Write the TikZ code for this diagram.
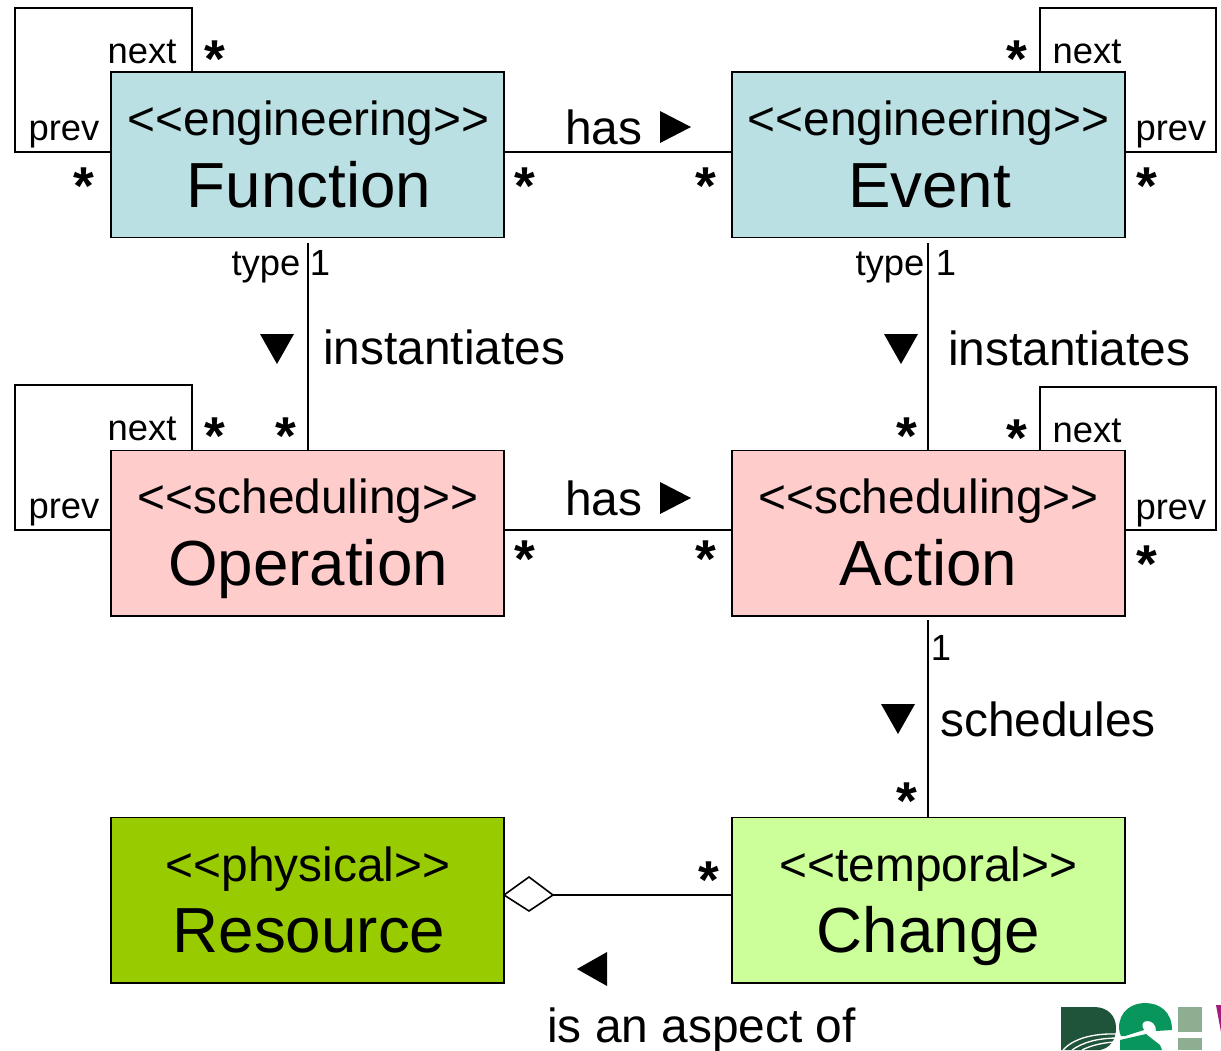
\documentclass[tikz,border=0pt]{standalone}
\usepackage{fontspec}
\setmainfont{Liberation Sans}
\definecolor{engc}{HTML}{BBE0E3}
\definecolor{schc}{HTML}{FFCCCC}
\definecolor{phyc}{HTML}{99CC00}
\definecolor{temc}{HTML}{CCFF99}
\definecolor{logoa}{RGB}{31,83,58}
\definecolor{logob}{RGB}{8,150,92}
\definecolor{logoc}{RGB}{142,174,146}
\definecolor{logod}{RGB}{160,30,120}
\newcommand{\fsz}[1]{\fontsize{#1}{#1}\selectfont}
\tikzset{
  x=0.75pt,y=-0.75pt,
  classbox/.style={draw=black,line width=1.3pt,outer sep=0pt,minimum width=294.75pt,minimum height=124.1pt,inner sep=0pt,anchor=north west},
  stereo/.style={anchor=base,inner sep=0pt,font=\fsz{35.9}},
  cname/.style={anchor=base,inner sep=0pt,font=\fsz{47.8}},
  role/.style={anchor=base,inner sep=0pt,font=\fsz{27.3}},
  assoc/.style={anchor=base west,inner sep=0pt,font=\fsz{35.9}},
  mult/.style={anchor=center,inner sep=0pt,font=\fsz{40}\bfseries},
  conn/.style={draw=black,line width=1.2pt},
  tri/.style={fill=black,draw=none},
}
\begin{document}
\begin{tikzpicture}
\useasboundingbox (0,0) rectangle (1221,1050);
% self-loop corners and free ends
\coordinate (fa) at (192,72);
\coordinate (fb) at (192,8);
\coordinate (fc) at (15,8);
\coordinate (fd) at (15,152);
\coordinate (ea) at (1040,72);
\coordinate (eb) at (1040,8);
\coordinate (ec) at (1216,8);
\coordinate (ed) at (1216,152);
\coordinate (oa) at (192,451);
\coordinate (ob) at (192,385);
\coordinate (oc) at (15,385);
\coordinate (od) at (15,530);
\coordinate (aa) at (1040,451);
\coordinate (ab) at (1040,387);
\coordinate (ac) at (1216,387);
\coordinate (ad) at (1216,530);
\coordinate (ftop) at (308,243);
\coordinate (etop) at (928,243);
\coordinate (atop) at (928,620);
\coordinate (levela) at (0,152);
\coordinate (levelb) at (0,530);
\coordinate (levelc) at (0,895);
% boxes
\node[classbox,fill=engc] (function) at (111,72) {};
\node[classbox,fill=engc] (event) at (732,72) {};
\node[classbox,fill=schc] (operation) at (111,450.5) {};
\node[classbox,fill=schc] (action) at (732,450.5) {};
\node[classbox,fill=phyc] (resource) at (111,817.5) {};
\node[classbox,fill=temc] (change) at (732,817.5) {};
% box texts
\node[stereo] (s1) at (308.5,135) {<{}<engineering>{}>};
\node[cname] (n1) at (309,207) {Function};
\node[stereo] (s2) at (928.5,135) {<{}<engineering>{}>};
\node[cname] (n2) at (929.5,207) {Event};
\node[stereo] (s3) at (308,513) {<{}<scheduling>{}>};
\node[cname] (n3) at (308,585) {Operation};
\node[stereo] (s4) at (928.5,513) {<{}<scheduling>{}>};
\node[cname] (n4) at (928.5,585) {Action};
\node[stereo] (s5) at (308,881) {<{}<physical>{}>};
\node[cname] (n5) at (309,952) {Resource};
\node[stereo] (s6) at (928.5,881) {<{}<temporal>{}>};
\node[cname] (n6) at (928.5,952) {Change};
% loops
\draw[conn] (fa) -- (fb) -- (fc) -- (fd) -- (fd -| function.west);
\draw[conn] (ea) -- (eb) -- (ec) -- (ed) -- (ed -| event.east);
\draw[conn] (oa) -- (ob) -- (oc) -- (od) -- (od -| operation.west);
\draw[conn] (aa) -- (ab) -- (ac) -- (ad) -- (ad -| action.east);
% connectors
\draw[conn] (levela -| function.east) -- (levela -| event.west);
\draw[conn] (levelb -| operation.east) -- (levelb -| action.west);
\draw[conn] (ftop) -- (ftop |- operation.north);
\draw[conn] (etop) -- (etop |- action.north);
\draw[conn] (atop) -- (atop |- change.north);
\coordinate (dl) at (levelc -| resource.east);
\coordinate (dr) at (553,895);
\draw[conn] (dr) -- (dr -| change.west);
\draw[conn,fill=white] (dl) -- (529,877) -- (dr) -- (529,911) -- cycle;
% roles
\node[role] (r1) at (142,63) {next};
\node[role] (r2) at (64,140) {prev};
\node[role] (r3) at (1087,63) {next};
\node[role] (r4) at (1171,140) {prev};
\node[role] (r5) at (142,440) {next};
\node[role] (r6) at (64,518) {prev};
\node[role] (r7) at (1087,442) {next};
\node[role] (r8) at (1171,519) {prev};
\node[role] (r9) at (266,275) {type};
\node[role] (r10) at (890,275) {type};
\node[role] (r11) at (320,275) {1};
\node[role] (r12) at (946,275) {1};
\node[role] (r13) at (941,660) {1};
% multiplicities
\node[mult] (m1) at (214.5,59) {*};
\node[mult] (m2) at (83.5,186) {*};
\node[mult] (m3) at (524.5,186) {*};
\node[mult] (m4) at (705.5,186) {*};
\node[mult] (m5) at (1016.5,59) {*};
\node[mult] (m6) at (1146.5,186) {*};
\node[mult] (m7) at (214.5,436) {*};
\node[mult] (m8) at (285.5,436) {*};
\node[mult] (m9) at (524.5,559) {*};
\node[mult] (m10) at (705.5,559) {*};
\node[mult] (m11) at (906.5,436) {*};
\node[mult] (m12) at (1016.5,438) {*};
\node[mult] (m13) at (1146.5,564) {*};
\node[mult] (m14) at (906.5,801) {*};
\node[mult] (m15) at (708.5,880) {*};
% association labels
\node[assoc] (l1) at (565,144) {has};
\node[assoc] (l2) at (565,515.5) {has};
\node[assoc] (l3) at (323,364) {instantiates};
\node[assoc] (l4) at (948,365) {instantiates};
\node[assoc] (l5) at (940,736) {schedules};
\node[assoc] (l6) at (547,1042) {is an aspect of};
% direction triangles
\fill[tri] (660,111) -- (691,127) -- (660,143) -- cycle;
\fill[tri] (660,482) -- (691,498) -- (660,514) -- cycle;
\fill[tri] (260,334) -- (294,334) -- (277,364) -- cycle;
\fill[tri] (884,334) -- (918,334) -- (901,364) -- cycle;
\fill[tri] (881,704) -- (915,704) -- (898,734) -- cycle;
\fill[tri] (607,952) -- (607,986) -- (577,969) -- cycle;
% logo fragment
\begin{scope}
\clip (0,0) rectangle (1221,1050);
\fill[logoa] (1061,1007) -- (1094,1007) .. controls (1108,1007) and (1116,1016) .. (1116,1028) .. controls (1116,1040) and (1110,1048) .. (1100,1050) -- (1061,1050) -- cycle;
\fill[logob] (1119,1028) .. controls (1119,1011) and (1132,1003) .. (1145,1003) .. controls (1160,1003) and (1172,1012) .. (1172,1030) -- (1156,1031) .. controls (1156,1024) and (1152,1021) .. (1147,1021) .. controls (1142,1021) and (1141,1026) .. (1144,1030) -- (1125,1036) -- (1121,1036) .. controls (1120,1034) and (1119,1031) .. (1119,1028) -- cycle;
\fill[logob] (1120,1040) -- (1146,1034) -- (1160,1045) -- (1162,1050) -- (1120,1050) -- cycle;
\fill[logoc] (1178,1007) rectangle (1202,1032);
\fill[logoc] (1178,1038) rectangle (1202,1050);
\fill[logod] (1216,1005) -- (1221,1005) -- (1221,1032) -- cycle;
\draw[white,line width=1pt] (1063,1050) .. controls (1072,1040) and (1090,1033) .. (1118,1034);
\draw[white,line width=1pt] (1072,1050) .. controls (1082,1043) and (1096,1038) .. (1118,1038);
\draw[white,line width=1pt] (1082,1050) .. controls (1090,1046) and (1100,1043) .. (1114,1042);
\end{scope}
\end{tikzpicture}
\end{document}
